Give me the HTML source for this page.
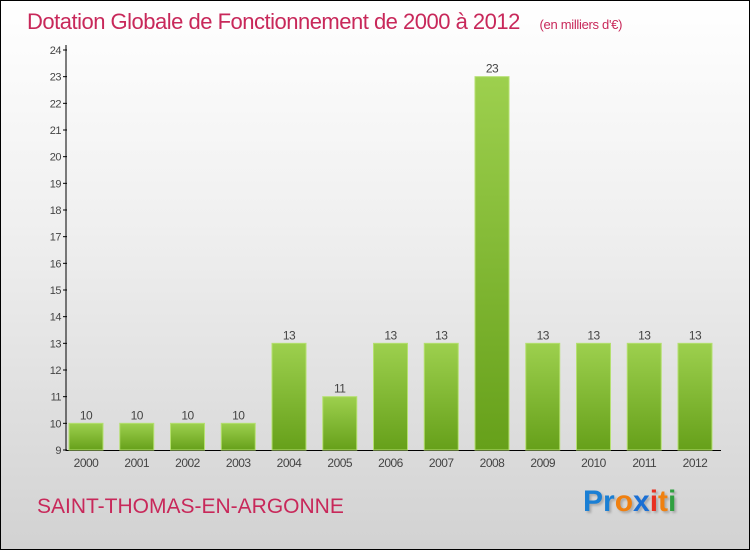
<!DOCTYPE html>
<html><head><meta charset="utf-8"><style>
body{margin:0}
#c{position:relative;width:748px;height:548px;border:1px solid #000;background:linear-gradient(#fff 0%,#f0f0f0 40%,#d2d2d2 100%);font-family:"Liberation Sans",sans-serif;overflow:hidden}
</style></head><body>
<div id="c">
<div style="position:absolute;left:26px;top:8px;font-size:22px;color:#c8285a;letter-spacing:-0.5px;font-weight:normal">Dotation Globale de Fonctionnement de 2000 à 2012 <span style="font-size:13px;margin-left:14px;letter-spacing:-0.3px">(en milliers d'€)</span></div>
<svg id="s" width="748" height="548" style="position:absolute;left:0;top:0"></svg>
<div style="position:absolute;left:36px;top:494px;font-size:21px;color:#c8285a;letter-spacing:0px">SAINT-THOMAS-EN-ARGONNE</div>
<div style="position:absolute;left:582px;top:484px;font-size:30px;font-weight:bold;text-shadow:2px 2px 2px #aaa"><span style="color:#1a7fd4">Pr</span><span style="color:#f08010">o</span><span style="color:#1a6fd4">x</span><span style="color:#e83020">i</span><span style="color:#f08010">t</span><span style="color:#30a040">i</span></div>
</div>
<script>
const categories=["2000","2001","2002","2003","2004","2005","2006","2007","2008","2009","2010","2011","2012"];
const values=[10,10,10,10,13,11,13,13,23,13,13,13,13];
const yTicks=[9,10,11,12,13,14,15,16,17,18,19,20,21,22,23,24];
const s=document.getElementById('s');const NS='http://www.w3.org/2000/svg';
function y(v){return 449-(v-9)*(400/15);}
function x(i){return 85+i*50.75;}
function mk(t,a,p){const e=document.createElementNS(NS,t);for(const k in a)e.setAttribute(k,a[k]);(p||s).appendChild(e);return e;}
const d=mk('defs',{});const g=mk('linearGradient',{id:'g',x1:0,y1:0,x2:0,y2:1},d);
mk('stop',{offset:0,'stop-color':'#9dd04e'},g);mk('stop',{offset:1,'stop-color':'#66a01a'},g);
const ax=mk('line',{x1:65,y1:44,x2:65,y2:450,stroke:'#000'});

const xa=mk('line',{x1:65,y1:449.5,x2:720,y2:449.5,stroke:'#000'});

yTicks.forEach(v=>{const tk=mk('line',{x1:62,y1:y(v),x2:66,y2:y(v),stroke:'#000'});

const t=mk('text',{x:60,y:y(v)+4,'text-anchor':'end','font-size':11,fill:'#444','letter-spacing':'-0.5'});t.textContent=v;
});
categories.forEach((c,i)=>{const v=values[i];
const r=mk('rect',{x:x(i)-17,y:y(v),width:34,height:y(9)-y(v),fill:'url(#g)',stroke:'#b5e070','stroke-width':1});

const vl=mk('text',{x:x(i),y:y(v)-4,'text-anchor':'middle','font-size':12,fill:'#444','letter-spacing':'-0.5'});vl.textContent=v;

const xl=mk('text',{x:x(i),y:466,'text-anchor':'middle','font-size':12,fill:'#444','letter-spacing':'-0.5'});xl.textContent=c;
});
</script>
</body></html>
